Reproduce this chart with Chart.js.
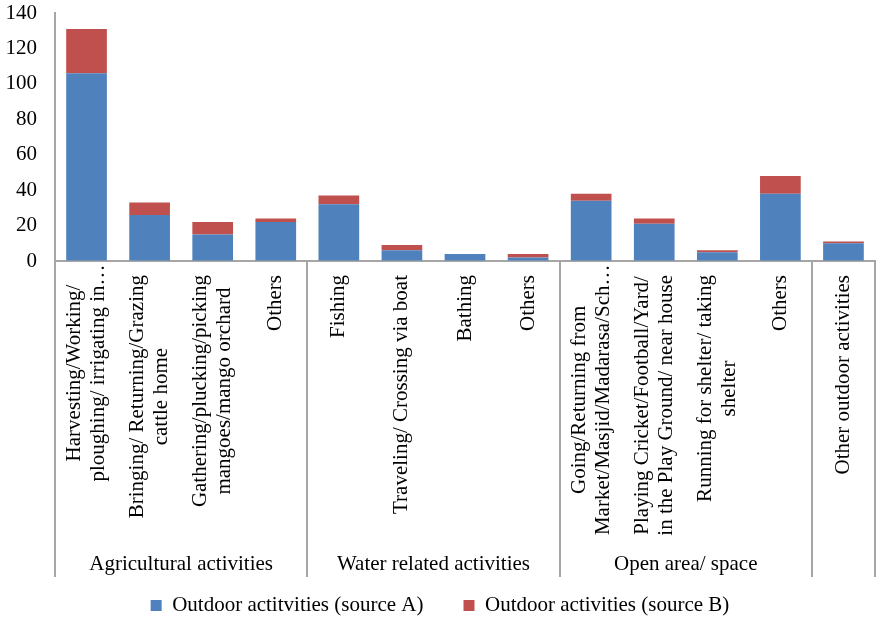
<!DOCTYPE html>
<html>
<head>
<meta charset="utf-8">
<script src="https://cdn.jsdelivr.net/npm/chart.js@4/dist/chart.umd.min.js"></script>
<style>
  html, body { margin: 0; padding: 0; background: #ffffff; }
  #wrap { width: 876px; height: 622px; }
</style>
</head>
<body>
<div id="wrap"><canvas id="chart" width="876" height="622"></canvas></div>
<script>
// Activity categories (each entry is the list of wrapped label lines)
const categories = [
  ["Harvesting/Working/", "ploughing/ irrigating in\u2026"],
  ["Bringing/ Returning/Grazing", "cattle home"],
  ["Gathering/plucking/picking", "mangoes/mango orchard"],
  ["Others"],
  ["Fishing"],
  ["Traveling/ Crossing via boat"],
  ["Bathing"],
  ["Others"],
  ["Going/Returning from", "Market/Masjid/Madarasa/Sch\u2026"],
  ["Playing Cricket/Football/Yard/", "in the Play Ground/ near house"],
  ["Running for shelter/ taking", "shelter"],
  ["Others"],
  ["Other outdoor activities"]
];

// Outer category level: group names and how many activities each spans
const groupNames = ["Agricultural activities", "Water related activities", "Open area/ space", ""];
const groupSizes = [4, 4, 4, 1];

// Series values
const sourceA = [106, 26, 15, 22, 32, 6, 4, 2, 34, 21, 5, 38, 10];
const sourceB = [25, 7, 7, 2, 5, 3, 0, 2, 4, 3, 1, 10, 1];

const seriesNames = ["Outdoor actitvities (source A)", "Outdoor activities (source B)"];

// Y axis ticks
const yTicks = [0, 20, 40, 60, 80, 100, 120, 140];

const FONT_FAMILY = "'Liberation Serif', 'Times New Roman', serif";
const FONT_SIZE = 21;
const AXIS_GREY = '#A6A6A6';

Chart.defaults.font.family = FONT_FAMILY;
Chart.defaults.font.size = FONT_SIZE;
Chart.defaults.color = '#000000';

// Draws the two-level category axis: rotated activity labels, group names and separators
const multiLevelAxis = {
  id: 'multiLevelAxis',
  afterDraw(chart) {
    const ctx = chart.ctx;
    const xs = chart.scales.x;
    const area = chart.chartArea;
    const labelTop = area.bottom + 14;
    const lineH = 24;
    const sepBottom = 577;
    const groupY = 564;

    ctx.save();
    ctx.font = FONT_SIZE + 'px ' + FONT_FAMILY;
    ctx.fillStyle = '#000000';

    // inner level: vertical text reading upwards, block ends at the axis side
    categories.forEach((lines, i) => {
      const cx = xs.getPixelForValue(i);
      let maxW = 0;
      lines.forEach(l => {
        const w = ctx.measureText(l.replace(/\u2026$/, '')).width;
        if (w > maxW) maxW = w;
      });
      const cy = labelTop + maxW / 2;
      const n = lines.length;
      lines.forEach((l, j) => {
        const lx = cx + (j - (n - 1) / 2) * lineH;
        ctx.save();
        ctx.translate(lx, cy);
        ctx.rotate(-Math.PI / 2);
        ctx.textAlign = 'center';
        ctx.textBaseline = 'middle';
        ctx.fillText(l, 0, 0);
        ctx.restore();
      });
    });

    // outer level: separators at group boundaries and centred group names
    ctx.strokeStyle = AXIS_GREY;
    ctx.lineWidth = 2;
    let start = 0;
    const bounds = [0];
    groupSizes.forEach(s => { start += s; bounds.push(start); });
    bounds.forEach(b => {
      const x = Math.round(xs.getPixelForValue(b - 0.5));
      ctx.beginPath();
      ctx.moveTo(x, area.bottom);
      ctx.lineTo(x, sepBottom);
      ctx.stroke();
    });
    ctx.textAlign = 'center';
    ctx.textBaseline = 'middle';
    groupNames.forEach((name, g) => {
      if (!name) return;
      const x0 = xs.getPixelForValue(bounds[g] - 0.5);
      const x1 = xs.getPixelForValue(bounds[g + 1] - 0.5);
      ctx.fillText(name, (x0 + x1) / 2, groupY);
    });
    ctx.restore();
  }
};

new Chart(document.getElementById('chart'), {
  type: 'bar',
  data: {
    labels: categories,
    datasets: [
      {
        label: seriesNames[0],
        data: sourceA,
        backgroundColor: '#4F81BD',
        borderWidth: 0,
        barPercentage: 0.645,
        categoryPercentage: 1
      },
      {
        label: seriesNames[1],
        data: sourceB,
        backgroundColor: '#C0504D',
        borderWidth: 0,
        barPercentage: 0.645,
        categoryPercentage: 1
      }
    ]
  },
  options: {
    responsive: false,
    animation: false,
    layout: { padding: { left: 5, right: 1, top: 13, bottom: 0 } },
    plugins: {
      tooltip: { enabled: false },
      legend: {
        position: 'bottom',
        maxHeight: 67,
        labels: {
          boxWidth: 11,
          boxHeight: 11,
          padding: 40,
          font: { size: FONT_SIZE, family: FONT_FAMILY },
          color: '#000000'
        }
      }
    },
    scales: {
      x: {
        stacked: true,
        grid: { display: false, drawTicks: false },
        border: { display: true, color: AXIS_GREY, width: 2 },
        ticks: { display: false },
        afterFit(scale) { scale.height = 294; }
      },
      y: {
        stacked: true,
        min: yTicks[0],
        max: yTicks[yTicks.length - 1],
        grid: {
          display: true,
          drawOnChartArea: false,
          drawTicks: true,
          tickLength: 18,
          tickColor: 'rgba(0,0,0,0)'
        },
        border: { display: true, color: AXIS_GREY, width: 2 },
        ticks: {
          stepSize: yTicks[1] - yTicks[0],
          padding: 0,
          font: { size: FONT_SIZE, family: FONT_FAMILY },
          color: '#000000'
        },
        afterFit(scale) { scale.width = 50; }
      }
    }
  },
  plugins: [multiLevelAxis]
});
</script>
</body>
</html>
